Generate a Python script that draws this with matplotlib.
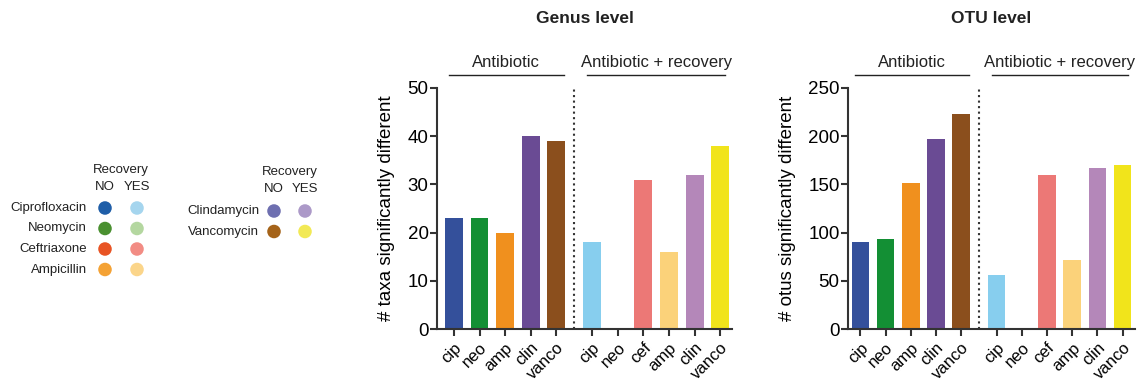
import matplotlib.pyplot as plt

plt.rcParams['font.family'] = ['Liberation Sans', 'DejaVu Sans']
plt.rcParams['text.color'] = '#222222'

# data
abx_labels = ["cip", "neo", "amp", "clin", "vanco"]
rec_labels = ["cip", "neo", "cef", "amp", "clin", "vanco"]
genus_abx = [23, 23, 20, 40, 39]
genus_rec = [18, 0, 31, 16, 32, 38]
otu_abx = [90, 93, 151, 197, 223]
otu_rec = [56, 0, 160, 72, 167, 170]
abx_colors = ["#34509b", "#138f34", "#f0901e", "#6a4b94", "#8b4f1d"]
rec_colors = ["#87ceee", "#b4d7a0", "#ec7876", "#fbd27a", "#b487b9", "#f1e41b"]

legend1_names = ["Ciprofloxacin", "Neomycin", "Ceftriaxone", "Ampicillin"]
legend1_no = ["#1f5ea8", "#4a9030", "#e85424", "#f4a235"]
legend1_yes = ["#a5d5ee", "#b4d7a0", "#f28c84", "#fbd58a"]
legend2_names = ["Clindamycin", "Vancomycin"]
legend2_no = ["#6e6fb0", "#a56319"]
legend2_yes = ["#ac99c8", "#f2e955"]

W, H = 1147, 383
fig = plt.figure(figsize=(W / 100, H / 100), dpi=100)

x_abx = [0, 1, 2, 3, 4]
x_rec = [5.4, 6.4, 7.4, 8.4, 9.4, 10.4]


def panel(rect, abx, rec, ymax, yticks, ylabel, title, xlim):
    ax = fig.add_axes(rect)
    ax.bar(x_abx, abx, width=0.7, color=abx_colors)
    ax.bar(x_rec, rec, width=0.7, color=rec_colors)
    ax.set_xlim(*xlim)
    ax.set_ylim(0, ymax)
    ax.set_yticks(yticks)
    ax.set_xticks(x_abx + x_rec)
    ax.set_xticklabels(abx_labels + rec_labels, rotation=45, ha='right',
                       rotation_mode='anchor', fontsize=12)
    for s in ["top", "right"]:
        ax.spines[s].set_visible(False)
    for s in ["left", "bottom"]:
        ax.spines[s].set_linewidth(1.5)
        ax.spines[s].set_color('#333333')
    ax.tick_params(axis='y', labelsize=13.5, length=5, width=1.5, pad=1, color='#333333')
    ax.tick_params(axis='x', length=5, width=1.5, pad=3, color='#333333')
    ax.set_ylabel(ylabel, fontsize=13.5, labelpad=9)
    # dotted separator
    ax.plot([4.7, 4.7], [0, ymax * 1.005], ls=':', color='#333333', lw=1.5,
            clip_on=False)
    # group brackets
    tr = ax.get_xaxis_transform()
    ax.plot([-0.2, 4.3], [1.055, 1.055], color='#222222', lw=1, transform=tr, clip_on=False)
    ax.plot([5.2, 10.6], [1.055, 1.055], color='#222222', lw=1, transform=tr, clip_on=False)
    ax.text(2.05, 1.075, "Antibiotic", transform=tr, ha='center', va='bottom', fontsize=12)
    ax.text(7.9, 1.075, "Antibiotic + recovery", transform=tr, ha='center', va='bottom',
            fontsize=12)
    ax.set_title(title, fontsize=12.5, fontweight='bold', pad=47)
    return ax


bottom = (H - 329) / H
height = (329 - 88) / H
panel([437 / W, bottom, (732 - 437) / W, height], genus_abx, genus_rec, 50,
      [0, 10, 20, 30, 40, 50], "# taxa significantly different", "Genus level",
      (-0.66, 10.86))
panel([848 / W, bottom, (1135 - 848) / W, height], otu_abx, otu_rec, 250,
      [0, 50, 100, 150, 200, 250], "# otus significantly different", "OTU level",
      (-0.49, 10.89))

# legend overlay in pixel coords
lg = fig.add_axes([0, 0, 1, 1])
lg.set_xlim(0, W)
lg.set_ylim(H, 0)
lg.axis('off')


def legend_block(x_lab, x_no, x_yes, y_head, y0, dy, names, no, yes):
    lg.text((x_no + x_yes) / 2, y_head, "Recovery", ha='center', va='center', fontsize=9.5)
    lg.text(x_no, y_head + 17, "NO", ha='center', va='center', fontsize=9.5)
    lg.text(x_yes, y_head + 17, "YES", ha='center', va='center', fontsize=9.5)
    for i, name in enumerate(names):
        y = y0 + i * dy
        lg.text(x_lab, y, name, ha='right', va='center', fontsize=9.5)
        lg.scatter([x_no], [y], s=95, color=no[i], edgecolors='none')
        lg.scatter([x_yes], [y], s=95, color=yes[i], edgecolors='none')


legend_block(87, 105, 137, 170, 208, 20.5, legend1_names, legend1_no, legend1_yes)
legend_block(259, 274, 305, 172, 211, 20.5, legend2_names, legend2_no, legend2_yes)

fig.savefig("out.png", dpi=100)
